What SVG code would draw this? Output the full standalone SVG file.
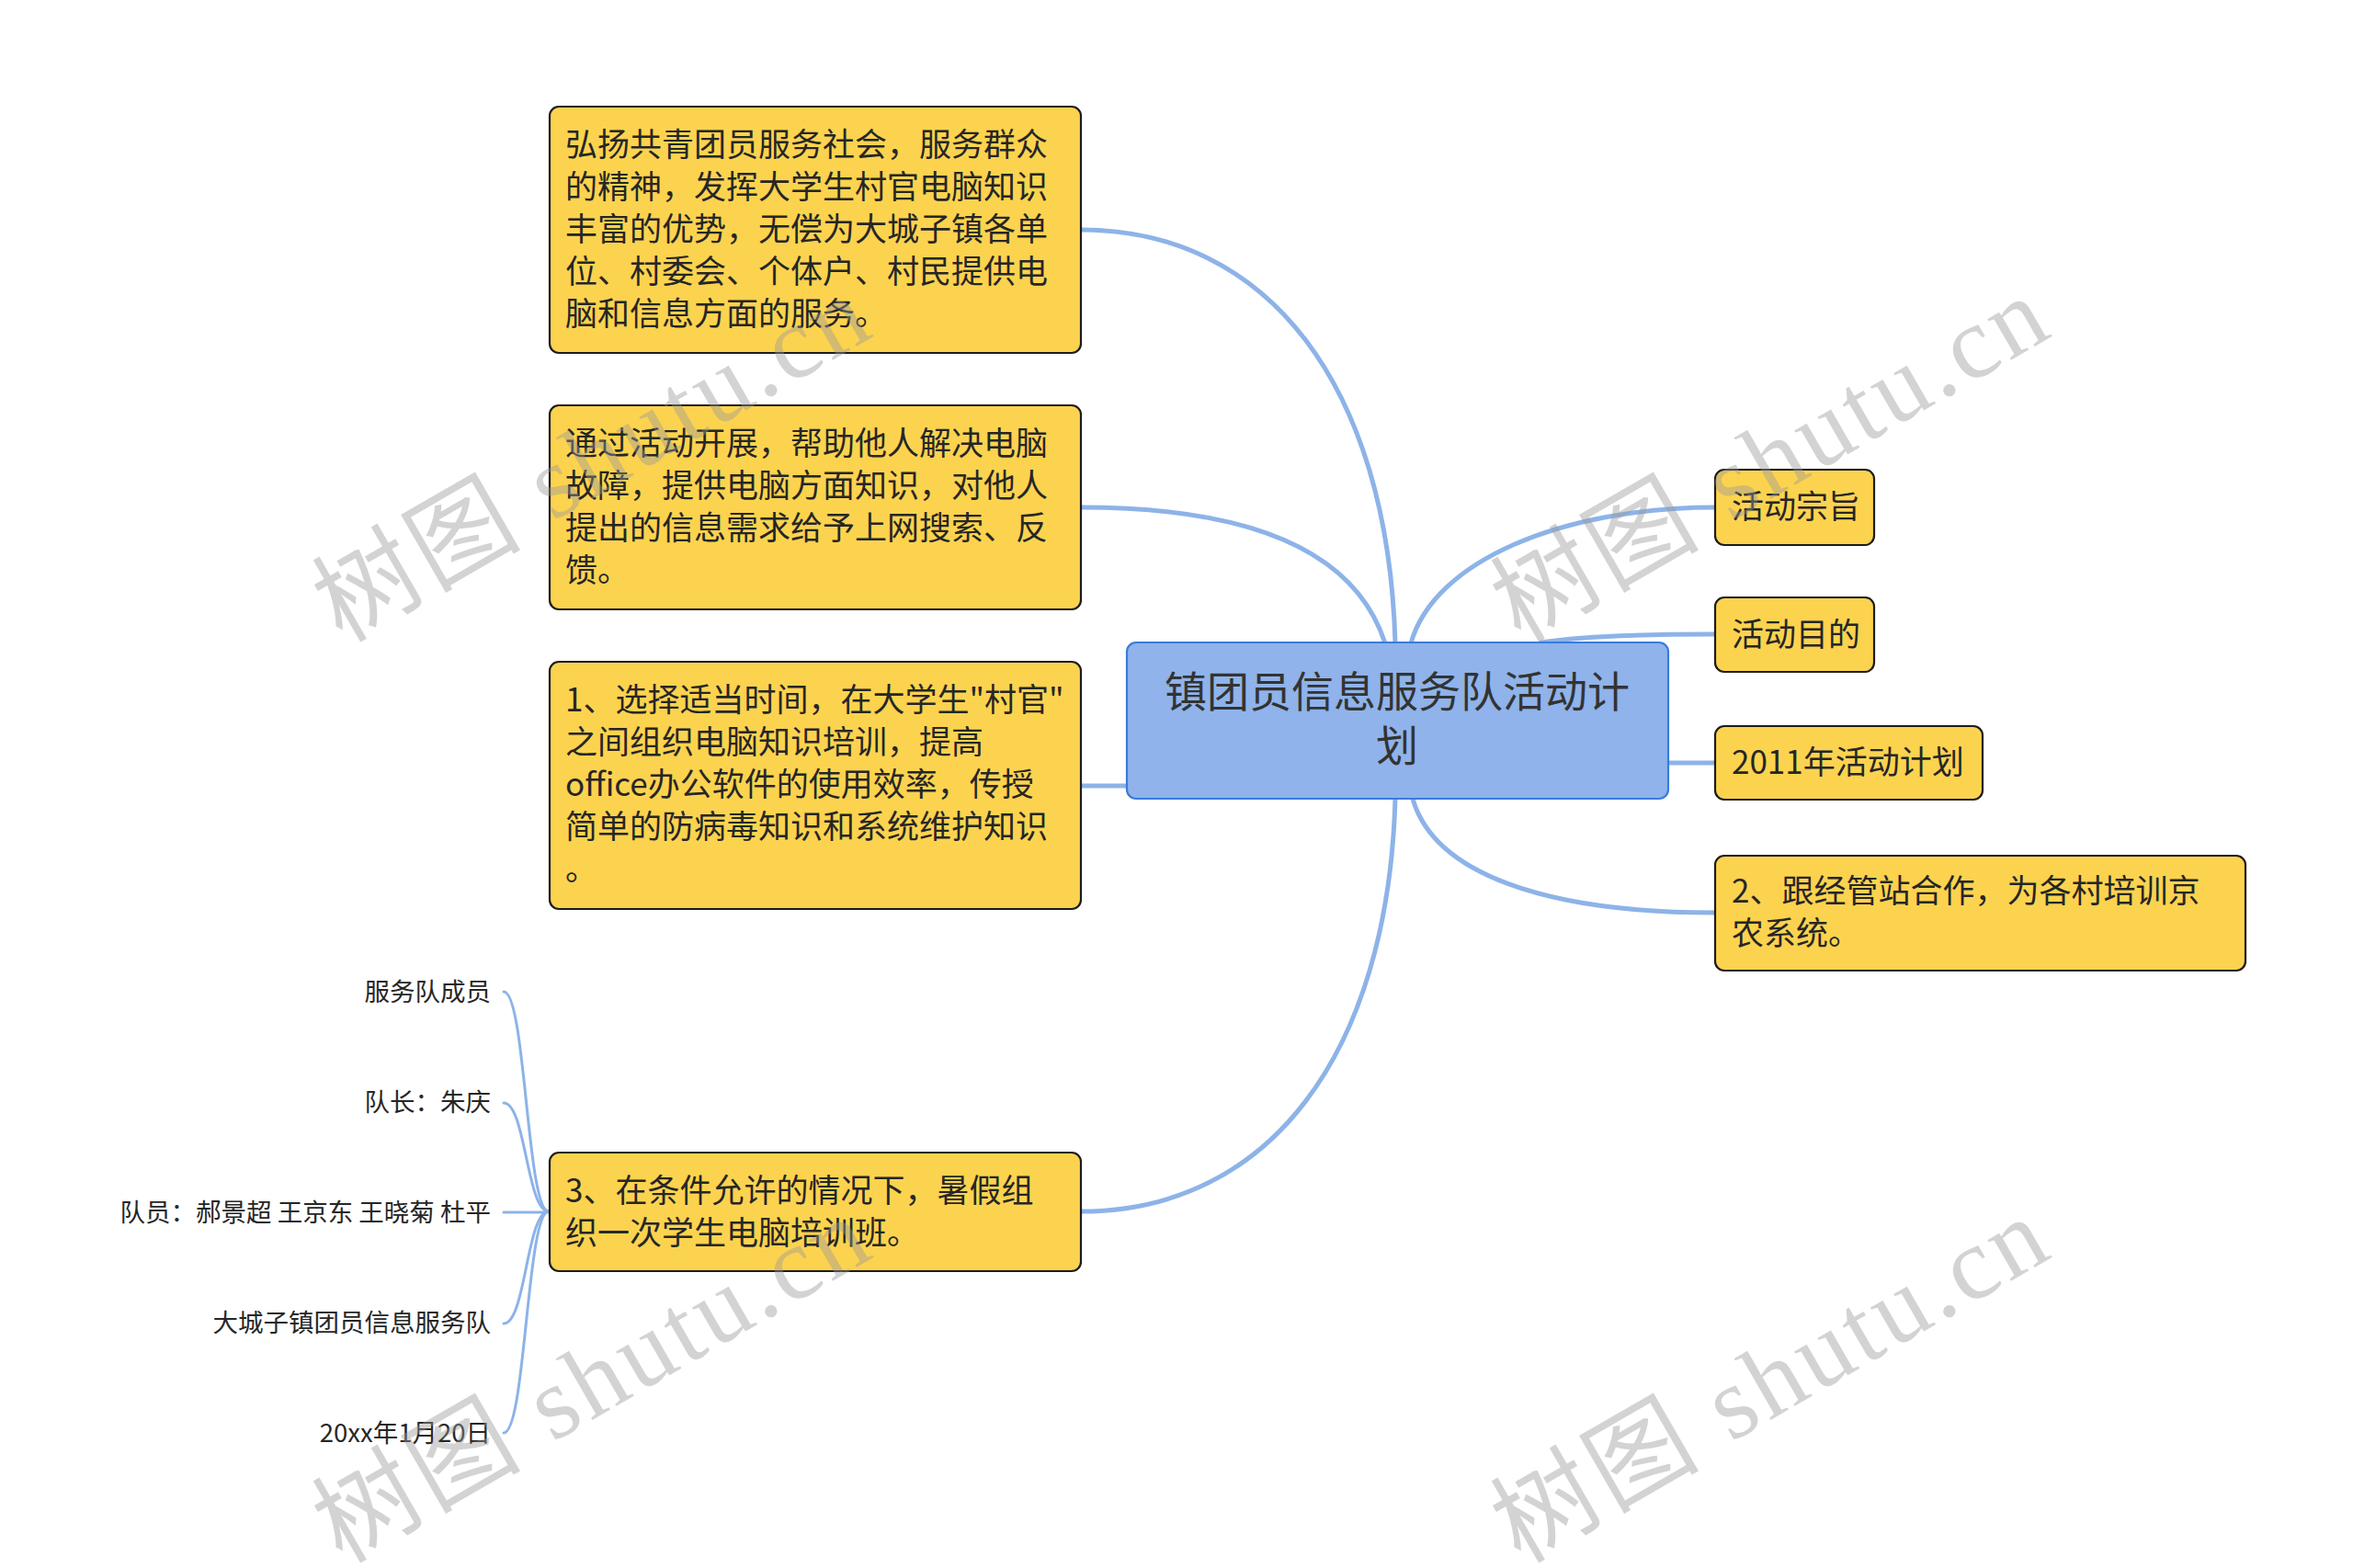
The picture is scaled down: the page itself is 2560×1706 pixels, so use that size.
<svg xmlns="http://www.w3.org/2000/svg" width="2560" height="1706" viewBox="0 0 2560 1706">
<style>
.box{fill:#fcd34f;stroke:#1c1c1c;stroke-width:2.2}
.root{fill:#8fb3ea;stroke:#3a7bdc;stroke-width:2.2}
.t{font-family:"Noto Sans CJK SC","Noto Sans",sans-serif;font-size:35px;fill:#262626}
.rt{font-family:"Noto Sans CJK SC","Noto Sans",sans-serif;font-size:46px;fill:#333;text-anchor:middle}
.lf{font-family:"Noto Sans CJK SC","Noto Sans",sans-serif;font-size:27.5px;fill:#262626;text-anchor:end}
.c{fill:none;stroke:#8db3e8;stroke-width:5;stroke-linecap:round}
.cl{fill:none;stroke:#8db3e8;stroke-width:3;stroke-linecap:round}
.wm{font-family:"Liberation Serif","Noto Sans CJK SC",serif;font-size:112px;fill:#999;opacity:0.42}
</style>
<rect width="2560" height="1706" fill="#ffffff"/>
<g id="connectors">
<path class="c" d="M1176,250 C1380,250 1510,420 1518,700"/>
<path class="c" d="M1176,552 C1330,552 1470,585 1507,700"/>
<path class="c" d="M1176,855 L1226,855"/>
<path class="c" d="M1176,1318 C1380,1318 1510,1148 1518,869"/>
<path class="c" d="M1535,700 C1560,610 1700,552 1866,552"/>
<path class="c" d="M1677,699 C1720,692 1790,690 1866,690"/>
<path class="c" d="M1815,830 L1866,830"/>
<path class="c" d="M1537,869 C1560,950 1680,993 1866,993"/>
<path class="cl" d="M548,1079 C572,1079 573,1318 597,1318"/>
<path class="cl" d="M548,1200 C572,1200 573,1318 597,1318"/>
<path class="cl" d="M548,1319 L597,1319"/>
<path class="cl" d="M548,1440 C572,1440 573,1318 597,1318"/>
<path class="cl" d="M548,1559 C572,1559 573,1318 597,1318"/>
</g>
<g id="root">
<rect class="root" x="1226" y="699" width="589" height="170" rx="10"/>
<text class="rt" x="1520" y="769">镇团员信息服务队活动计</text>
<text class="rt" x="1520" y="828">划</text>
</g>
<g id="n1">
<rect class="box" x="598" y="116" width="578" height="268" rx="10"/>
<text class="t" x="615" y="170">弘扬共青团员服务社会，服务群众</text>
<text class="t" x="615" y="216">的精神，发挥大学生村官电脑知识</text>
<text class="t" x="615" y="262">丰富的优势，无偿为大城子镇各单</text>
<text class="t" x="615" y="308">位、村委会、个体户、村民提供电</text>
<text class="t" x="615" y="354">脑和信息方面的服务。</text>
</g>
<g id="n2">
<rect class="box" x="598" y="441" width="578" height="222" rx="10"/>
<text class="t" x="615" y="495">通过活动开展，帮助他人解决电脑</text>
<text class="t" x="615" y="541">故障，提供电脑方面知识，对他人</text>
<text class="t" x="615" y="587">提出的信息需求给予上网搜索、反</text>
<text class="t" x="615" y="633">馈。</text>
</g>
<g id="n3">
<rect class="box" x="598" y="720" width="578" height="269" rx="10"/>
<text class="t" x="615" y="774">1、选择适当时间，在大学生"村官"</text>
<text class="t" x="615" y="820">之间组织电脑知识培训，提高</text>
<text class="t" x="615" y="866">office办公软件的使用效率，传授</text>
<text class="t" x="615" y="912">简单的防病毒知识和系统维护知识</text>
<text class="t" x="615" y="958">。</text>
</g>
<g id="n4">
<rect class="box" x="598" y="1254" width="578" height="129" rx="10"/>
<text class="t" x="615" y="1308">3、在条件允许的情况下，暑假组</text>
<text class="t" x="615" y="1354">织一次学生电脑培训班。</text>
</g>
<g id="r1">
<rect class="box" x="1866" y="511" width="173" height="82" rx="10"/>
<text class="t" x="1884" y="564">活动宗旨</text>
</g>
<g id="r2">
<rect class="box" x="1866" y="650" width="173" height="81" rx="10"/>
<text class="t" x="1884" y="703">活动目的</text>
</g>
<g id="r3">
<rect class="box" x="1866" y="790" width="291" height="80" rx="10"/>
<text class="t" x="1884" y="842">2011年活动计划</text>
</g>
<g id="r4">
<rect class="box" x="1866" y="931" width="577" height="125" rx="10"/>
<text class="t" x="1884" y="982">2、跟经管站合作，为各村培训京</text>
<text class="t" x="1884" y="1028">农系统。</text>
</g>
<g id="leaf1"><text class="lf" x="534" y="1089">服务队成员</text></g>
<g id="leaf2"><text class="lf" x="534" y="1209">队长：朱庆</text></g>
<g id="leaf3"><text class="lf" x="534" y="1329">队员：郝景超 王京东 王晓菊 杜平</text></g>
<g id="leaf4"><text class="lf" x="534" y="1449">大城子镇团员信息服务队</text></g>
<g id="leaf5"><text class="lf" x="534" y="1569">20xx年1月20日</text></g>
<g id="watermarks">
<text class="wm" transform="translate(372,700) rotate(-30)" textLength="670" lengthAdjust="spacing">树图 shutu.cn</text>
<text class="wm" transform="translate(1654,700) rotate(-30)" textLength="670" lengthAdjust="spacing">树图 shutu.cn</text>
<text class="wm" transform="translate(372,1702) rotate(-30)" textLength="670" lengthAdjust="spacing">树图 shutu.cn</text>
<text class="wm" transform="translate(1654,1702) rotate(-30)" textLength="670" lengthAdjust="spacing">树图 shutu.cn</text>
</g>
</svg>
